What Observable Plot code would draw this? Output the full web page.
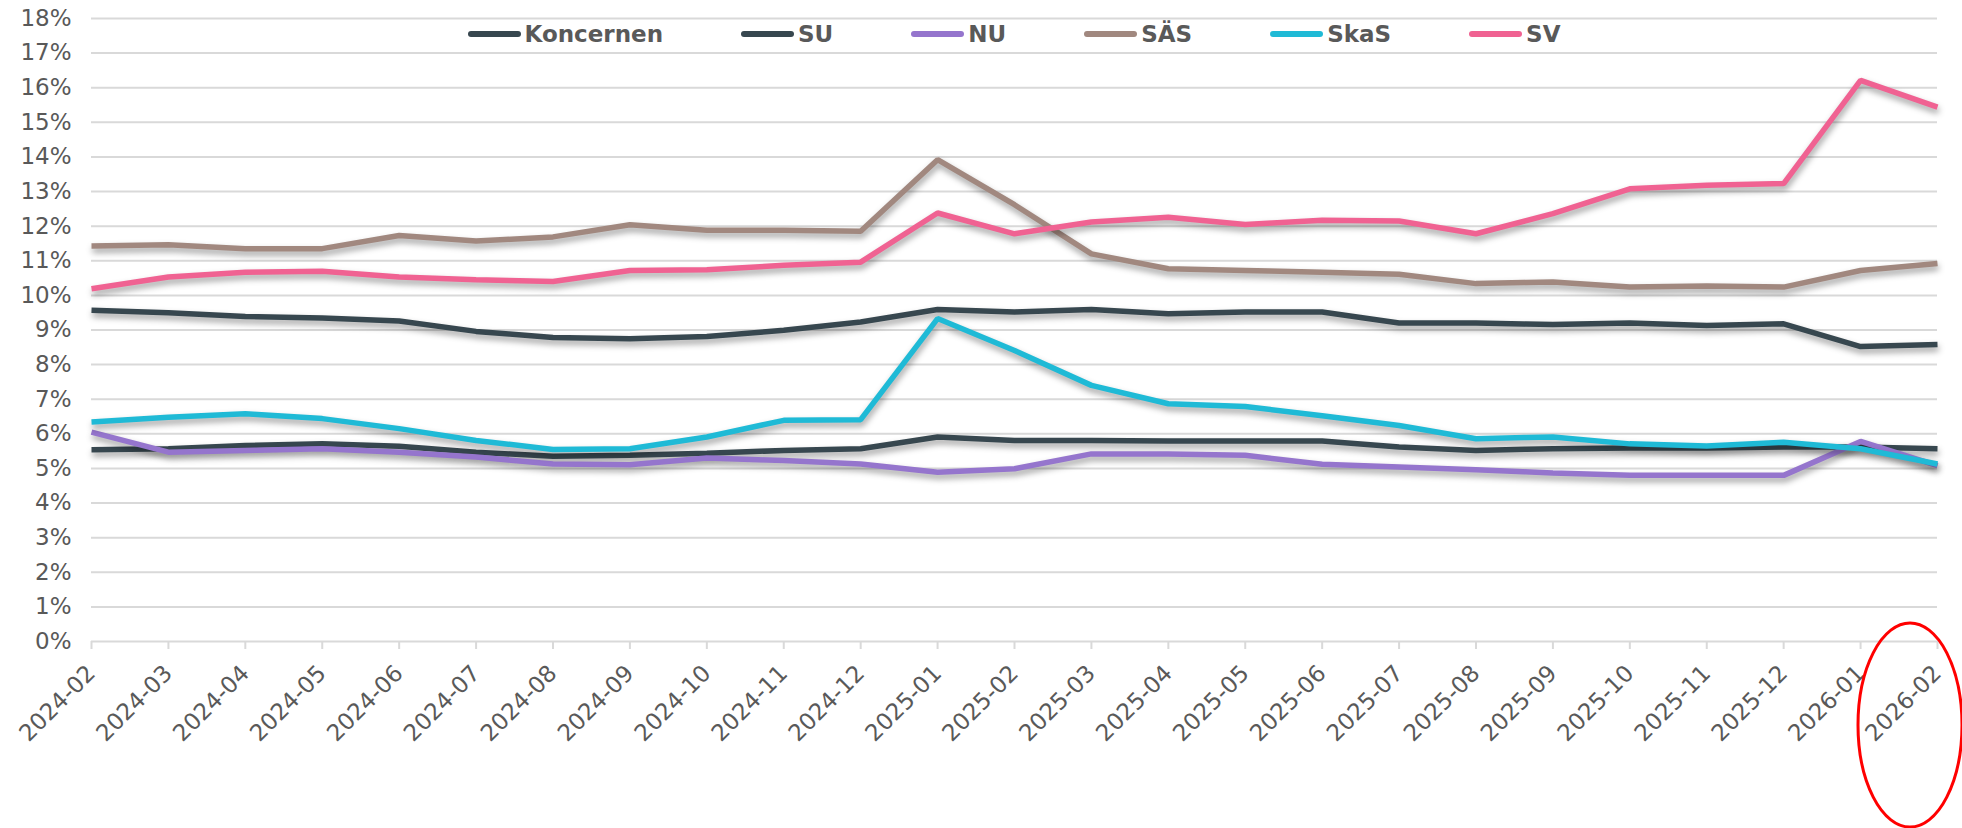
<!DOCTYPE html>
<html>
<head>
<meta charset="utf-8">
<script src="https://cdn.jsdelivr.net/npm/d3@7"></script>
<script src="https://cdn.jsdelivr.net/npm/@observablehq/plot@0.6"></script>
<style>
html, body { margin: 0; padding: 0; background: #fff; }
#wrap { position: relative; width: 1962px; height: 828px; overflow: hidden; }
#legend { position: absolute; top: 0; left: 91px; width: 1846px; height: 68px; display: flex; justify-content: center; align-items: center; gap: 78px; font-family: "DejaVu Sans"; font-weight: bold; font-size: 23px; color: #595959; }
.item { display: flex; align-items: center; gap: 4px; }
.sw { width: 53px; height: 6px; border-radius: 3px; }
#note { position: absolute; left: 0; top: 0; pointer-events: none; }
</style>
</head>
<body>
<div id="wrap"></div>
<script>
// Categories
const months = ["2024-02","2024-03","2024-04","2024-05","2024-06","2024-07","2024-08","2024-09","2024-10","2024-11","2024-12",
  "2025-01","2025-02","2025-03","2025-04","2025-05","2025-06","2025-07","2025-08","2025-09","2025-10","2025-11","2025-12",
  "2026-01","2026-02"];
// Series names and colours
const seriesNames = ["Koncernen", "SU", "NU", "SÄS", "SkaS", "SV"];
const seriesColors = ["#37474f", "#37474f", "#9575cd", "#a1887f", "#1fbad6", "#f06292"];
// Series values (percent)
const koncernen = [9.57,9.50,9.39,9.35,9.26,8.96,8.78,8.75,8.81,8.99,9.23,9.59,9.52,9.59,9.47,9.52,9.52,9.20,9.20,9.16,9.20,9.13,9.18,8.52,8.58];
const su        = [5.54,5.57,5.66,5.71,5.64,5.47,5.35,5.38,5.44,5.52,5.57,5.91,5.81,5.81,5.79,5.79,5.79,5.62,5.52,5.57,5.59,5.59,5.62,5.62,5.57];
const nu        = [6.05,5.47,5.52,5.57,5.47,5.33,5.13,5.11,5.30,5.23,5.13,4.89,4.99,5.42,5.42,5.38,5.12,5.04,4.96,4.87,4.80,4.80,4.80,5.78,5.08];
const sas       = [11.43,11.46,11.35,11.35,11.73,11.57,11.69,12.04,11.88,11.88,11.85,13.92,12.62,11.20,10.77,10.72,10.67,10.61,10.34,10.39,10.24,10.27,10.24,10.72,10.92];
const skas      = [6.34,6.48,6.58,6.44,6.15,5.81,5.55,5.57,5.91,6.39,6.41,9.33,8.41,7.40,6.87,6.79,6.52,6.24,5.86,5.91,5.71,5.65,5.76,5.57,5.13];
const sv        = [10.19,10.53,10.67,10.70,10.53,10.45,10.40,10.72,10.74,10.87,10.96,12.38,11.78,12.12,12.26,12.05,12.17,12.15,11.78,12.36,13.08,13.18,13.23,16.21,15.44];
// Y tick labels (percent)
const yTickPercents = [0,1,2,3,4,5,6,7,8,9,10,11,12,13,14,15,16,17,18];

const seriesValues = [koncernen, su, nu, sas, skas, sv];
const data = [];
seriesNames.forEach((s, k) => seriesValues[k].forEach((v, i) => data.push({month: months[i], series: s, value: v / 100})));
const yTicks = yTickPercents.map(p => p / 100);

const W = 1962, H = 828, mL = 91, mR = 25, mT = 18, mB = 187;

const plot = Plot.plot({
  width: W,
  height: H,
  marginLeft: mL,
  marginRight: mR,
  marginTop: mT,
  marginBottom: mB,
  style: {fontFamily: "DejaVu Sans", fontSize: "23px", color: "#595959", background: "#fff", overflow: "visible"},
  x: {type: "point", domain: months, padding: 0, round: false},
  y: {domain: [0, 0.18]},
  color: {domain: seriesNames, range: seriesColors},
  marks: [
    Plot.gridY(yTicks, {stroke: "#d9d9d9", strokeOpacity: 1, strokeWidth: 2}),
    Plot.axisY(yTicks, {tickSize: 0, tickPadding: 20, tickFormat: d3.format(".0%"), label: null, fill: "#595959"}),
    Plot.axisX({tickSize: 8, tickPadding: 20, tickRotate: -45, stroke: "#d9d9d9", strokeWidth: 2, strokeOpacity: 1, label: null, fill: "#595959"}),
    Plot.lineY(data, {x: "month", y: "value", z: "series", stroke: "series", strokeWidth: 5.5, strokeLinecap: "butt", strokeLinejoin: "miter"})
  ]
});

d3.select(plot).selectAll('g[aria-label="line"] path')
  .style("filter", "drop-shadow(1px 4px 3px rgba(0,0,0,0.38))");

const wrap = document.getElementById("wrap");
wrap.appendChild(plot);

// Legend
const legend = document.createElement("div");
legend.id = "legend";
seriesNames.forEach((s, k) => {
  const item = document.createElement("div");
  item.className = "item";
  const sw = document.createElement("span");
  sw.className = "sw";
  sw.style.background = seriesColors[k];
  const t = document.createElement("span");
  t.textContent = s;
  item.appendChild(sw);
  item.appendChild(t);
  legend.appendChild(item);
});
wrap.appendChild(legend);

// Red ellipse annotation around the last month label
const xs = plot.scale("x").apply(months[months.length - 1]);
const ns = "http://www.w3.org/2000/svg";
const note = document.createElementNS(ns, "svg");
note.setAttribute("id", "note");
note.setAttribute("width", W);
note.setAttribute("height", H);
const el = document.createElementNS(ns, "ellipse");
el.setAttribute("cx", xs - 27);
el.setAttribute("cy", 725);
el.setAttribute("rx", 52);
el.setAttribute("ry", 102);
el.setAttribute("fill", "none");
el.setAttribute("stroke", "#ff0000");
el.setAttribute("stroke-width", 3);
note.appendChild(el);
wrap.appendChild(note);
</script>
</body>
</html>
